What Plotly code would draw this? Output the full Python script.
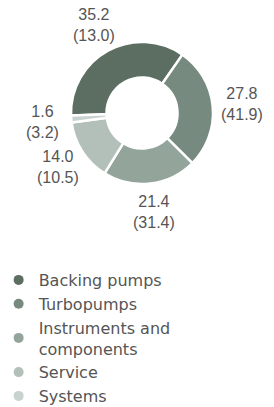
import math
import plotly.graph_objects as go

categories = ["Backing pumps", "Turbopumps", "Instruments and<br>components", "Service", "Systems"]
values = [35.2, 27.8, 21.4, 14.0, 1.6]
prev_values = [13.0, 41.9, 31.4, 10.5, 3.2]
colors = ["#5c6e62", "#778a80", "#93a49b", "#b3c0ba", "#c8d2ce"]

W, H = 274, 407
cx, cy, R = 142, 113, 71
rotation = -92  # start angle of first slice, clockwise from 12 o'clock

texts = [f"{v:.1f}<br>({p:.1f})" for v, p in zip(values, prev_values)]

fig = go.Figure()
fig.add_trace(go.Pie(
    labels=categories, values=values,
    textinfo="none",
    hole=0.5, sort=False, direction="clockwise", rotation=rotation,
    marker=dict(colors=colors, line=dict(color="white", width=2.5)),
    domain=dict(x=[(cx - R) / W, (cx + R) / W], y=[1 - (cy + R) / H, 1 - (cy - R) / H]),
    showlegend=False, hoverinfo="skip",
))

# outside labels centred beyond each slice's mid-angle
total = sum(values)
start = rotation
label_r = R + 29
for v, t in zip(values, texts):
    mid = start + v / total * 360 / 2
    start += v / total * 360
    a = math.radians(mid)
    x = cx + label_r * math.sin(a)
    y = cy - label_r * math.cos(a)
    fig.add_annotation(x=x / W, y=1 - y / H, xref="paper", yref="paper",
                       text=t, showarrow=False, xanchor="center", yanchor="middle",
                       font=dict(size=16, color="#555555", family="Liberation Sans, Arial"))

for name, col in zip(categories, colors):
    fig.add_trace(go.Scatter(x=[None], y=[None], mode="markers", name=name,
                             marker=dict(color=col, size=10, symbol="circle")))

fig.update_layout(
    width=W, height=H, margin=dict(l=0, r=0, t=0, b=0, autoexpand=False),
    paper_bgcolor="white", plot_bgcolor="white",
    xaxis=dict(visible=False), yaxis=dict(visible=False),
    legend=dict(x=-0.005, y=1 - 263 / H, xanchor="left", yanchor="top",
                font=dict(size=16, color="#555555", family="DejaVu Sans"),
                itemwidth=30, tracegroupgap=0, bgcolor="rgba(0,0,0,0)"),
    font=dict(family="Liberation Sans, Arial"),
)
fig.write_html("out.html", config={"displayModeBar": False},
               post_script="document.body.style.margin='0';")
